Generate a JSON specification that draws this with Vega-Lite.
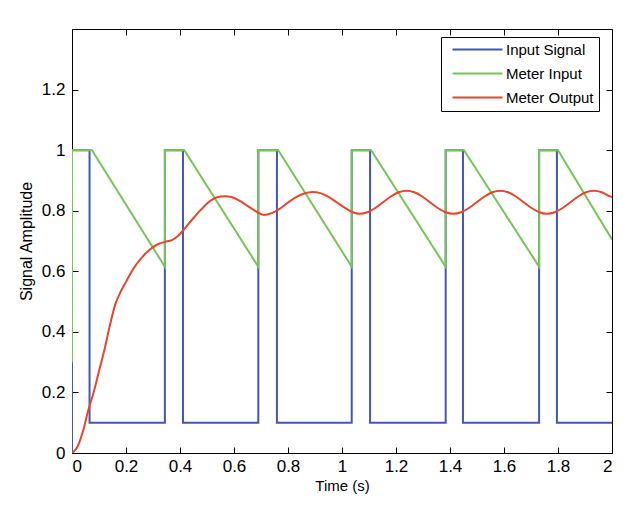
{
  "$schema": "https://vega.github.io/schema/vega-lite/v6.json",
  "width": 540,
  "height": 424,
  "autosize": "none",
  "padding": {"left": 72, "top": 29, "right": 11, "bottom": 52},
  "background": "white",
  "config": {
    "view": {"stroke": "black", "strokeWidth": 1},
    "font": "Liberation Sans",
    "axis": {
      "grid": false,
      "domainColor": "black",
      "tickColor": "black",
      "tickSize": -6,
      "labelColor": "black",
      "labelFont": "Liberation Sans",
      "labelFontSize": 17,
      "labelFontWeight": "normal",
      "titleFont": "Liberation Sans",
      "titleFontWeight": "normal",
      "titleColor": "black",
      "zindex": 1
    },
    "legend": {
      "symbolType": "M-0.2,0H9.8",
      "symbolSize": 100,
      "symbolStrokeWidth": 2,
      "labelFont": "Liberation Sans",
      "labelFontSize": 15,
      "labelColor": "black",
      "strokeColor": "black",
      "fillColor": "white",
      "padding": 5,
      "rowPadding": 8,
      "labelOffset": 45,
      "cornerRadius": 0
    }
  },
  "datasets": {
    "blue": [
      {"s": "Input Signal", "t": 0, "v": 0, "i": 0},
      {"s": "Input Signal", "t": 0, "v": 1, "i": 1},
      {"s": "Input Signal", "t": 0.065, "v": 1, "i": 2},
      {"s": "Input Signal", "t": 0.065, "v": 0.1, "i": 3},
      {"s": "Input Signal", "t": 0.344, "v": 0.1, "i": 4},
      {"s": "Input Signal", "t": 0.344, "v": 1, "i": 5},
      {"s": "Input Signal", "t": 0.411, "v": 1, "i": 6},
      {"s": "Input Signal", "t": 0.411, "v": 0.1, "i": 7},
      {"s": "Input Signal", "t": 0.69, "v": 0.1, "i": 8},
      {"s": "Input Signal", "t": 0.69, "v": 1, "i": 9},
      {"s": "Input Signal", "t": 0.759, "v": 1, "i": 10},
      {"s": "Input Signal", "t": 0.759, "v": 0.1, "i": 11},
      {"s": "Input Signal", "t": 1.036, "v": 0.1, "i": 12},
      {"s": "Input Signal", "t": 1.036, "v": 1, "i": 13},
      {"s": "Input Signal", "t": 1.104, "v": 1, "i": 14},
      {"s": "Input Signal", "t": 1.104, "v": 0.1, "i": 15},
      {"s": "Input Signal", "t": 1.384, "v": 0.1, "i": 16},
      {"s": "Input Signal", "t": 1.384, "v": 1, "i": 17},
      {"s": "Input Signal", "t": 1.448, "v": 1, "i": 18},
      {"s": "Input Signal", "t": 1.448, "v": 0.1, "i": 19},
      {"s": "Input Signal", "t": 1.73, "v": 0.1, "i": 20},
      {"s": "Input Signal", "t": 1.73, "v": 1, "i": 21},
      {"s": "Input Signal", "t": 1.796, "v": 1, "i": 22},
      {"s": "Input Signal", "t": 1.796, "v": 0.1, "i": 23},
      {"s": "Input Signal", "t": 2, "v": 0.1, "i": 24}
    ],
    "green": [
      {"s": "Meter Input", "t": 0, "v": 0.3, "i": 0},
      {"s": "Meter Input", "t": 0, "v": 1, "i": 1},
      {"s": "Meter Input", "t": 0.074, "v": 1, "i": 2},
      {"s": "Meter Input", "t": 0.344, "v": 0.615, "i": 3},
      {"s": "Meter Input", "t": 0.344, "v": 1, "i": 4},
      {"s": "Meter Input", "t": 0.416, "v": 1, "i": 5},
      {"s": "Meter Input", "t": 0.69, "v": 0.615, "i": 6},
      {"s": "Meter Input", "t": 0.69, "v": 1, "i": 7},
      {"s": "Meter Input", "t": 0.764, "v": 1, "i": 8},
      {"s": "Meter Input", "t": 1.036, "v": 0.615, "i": 9},
      {"s": "Meter Input", "t": 1.036, "v": 1, "i": 10},
      {"s": "Meter Input", "t": 1.108, "v": 1, "i": 11},
      {"s": "Meter Input", "t": 1.384, "v": 0.615, "i": 12},
      {"s": "Meter Input", "t": 1.384, "v": 1, "i": 13},
      {"s": "Meter Input", "t": 1.452, "v": 1, "i": 14},
      {"s": "Meter Input", "t": 1.73, "v": 0.615, "i": 15},
      {"s": "Meter Input", "t": 1.73, "v": 1, "i": 16},
      {"s": "Meter Input", "t": 1.8, "v": 1, "i": 17},
      {"s": "Meter Input", "t": 2, "v": 0.705, "i": 18}
    ],
    "red": [
      {"s": "Meter Output", "t": 0, "v": 0},
      {"s": "Meter Output", "t": 0.02, "v": 0.02},
      {"s": "Meter Output", "t": 0.04, "v": 0.07},
      {"s": "Meter Output", "t": 0.06, "v": 0.14},
      {"s": "Meter Output", "t": 0.08, "v": 0.2},
      {"s": "Meter Output", "t": 0.1, "v": 0.27},
      {"s": "Meter Output", "t": 0.12, "v": 0.34},
      {"s": "Meter Output", "t": 0.14, "v": 0.42},
      {"s": "Meter Output", "t": 0.16, "v": 0.49},
      {"s": "Meter Output", "t": 0.18, "v": 0.532},
      {"s": "Meter Output", "t": 0.2, "v": 0.565},
      {"s": "Meter Output", "t": 0.22, "v": 0.598},
      {"s": "Meter Output", "t": 0.24, "v": 0.625},
      {"s": "Meter Output", "t": 0.26, "v": 0.647},
      {"s": "Meter Output", "t": 0.28, "v": 0.665},
      {"s": "Meter Output", "t": 0.3, "v": 0.68},
      {"s": "Meter Output", "t": 0.32, "v": 0.69},
      {"s": "Meter Output", "t": 0.345, "v": 0.697},
      {"s": "Meter Output", "t": 0.37, "v": 0.703},
      {"s": "Meter Output", "t": 0.39, "v": 0.715},
      {"s": "Meter Output", "t": 0.41, "v": 0.733},
      {"s": "Meter Output", "t": 0.43, "v": 0.755},
      {"s": "Meter Output", "t": 0.45, "v": 0.776},
      {"s": "Meter Output", "t": 0.47, "v": 0.796},
      {"s": "Meter Output", "t": 0.49, "v": 0.815},
      {"s": "Meter Output", "t": 0.51, "v": 0.831},
      {"s": "Meter Output", "t": 0.53, "v": 0.842},
      {"s": "Meter Output", "t": 0.55, "v": 0.847},
      {"s": "Meter Output", "t": 0.57, "v": 0.848},
      {"s": "Meter Output", "t": 0.59, "v": 0.845},
      {"s": "Meter Output", "t": 0.62, "v": 0.833},
      {"s": "Meter Output", "t": 0.65, "v": 0.816},
      {"s": "Meter Output", "t": 0.68, "v": 0.799},
      {"s": "Meter Output", "t": 0.71, "v": 0.786},
      {"s": "Meter Output", "t": 0.74, "v": 0.792},
      {"s": "Meter Output", "t": 0.77, "v": 0.807},
      {"s": "Meter Output", "t": 0.8, "v": 0.827},
      {"s": "Meter Output", "t": 0.83, "v": 0.845},
      {"s": "Meter Output", "t": 0.86, "v": 0.857},
      {"s": "Meter Output", "t": 0.89, "v": 0.862},
      {"s": "Meter Output", "t": 0.92, "v": 0.858},
      {"s": "Meter Output", "t": 0.95, "v": 0.846},
      {"s": "Meter Output", "t": 0.98, "v": 0.828},
      {"s": "Meter Output", "t": 1.01, "v": 0.81},
      {"s": "Meter Output", "t": 1.04, "v": 0.795},
      {"s": "Meter Output", "t": 1.065, "v": 0.79},
      {"s": "Meter Output", "t": 1.094, "v": 0.795},
      {"s": "Meter Output", "t": 1.123, "v": 0.809},
      {"s": "Meter Output", "t": 1.152, "v": 0.828},
      {"s": "Meter Output", "t": 1.181, "v": 0.847},
      {"s": "Meter Output", "t": 1.21, "v": 0.861},
      {"s": "Meter Output", "t": 1.239, "v": 0.866},
      {"s": "Meter Output", "t": 1.268, "v": 0.861},
      {"s": "Meter Output", "t": 1.297, "v": 0.847},
      {"s": "Meter Output", "t": 1.326, "v": 0.828},
      {"s": "Meter Output", "t": 1.355, "v": 0.809},
      {"s": "Meter Output", "t": 1.384, "v": 0.795},
      {"s": "Meter Output", "t": 1.412, "v": 0.79},
      {"s": "Meter Output", "t": 1.441, "v": 0.795},
      {"s": "Meter Output", "t": 1.47, "v": 0.809},
      {"s": "Meter Output", "t": 1.499, "v": 0.828},
      {"s": "Meter Output", "t": 1.528, "v": 0.847},
      {"s": "Meter Output", "t": 1.557, "v": 0.861},
      {"s": "Meter Output", "t": 1.586, "v": 0.866},
      {"s": "Meter Output", "t": 1.615, "v": 0.861},
      {"s": "Meter Output", "t": 1.644, "v": 0.847},
      {"s": "Meter Output", "t": 1.673, "v": 0.828},
      {"s": "Meter Output", "t": 1.702, "v": 0.809},
      {"s": "Meter Output", "t": 1.731, "v": 0.795},
      {"s": "Meter Output", "t": 1.759, "v": 0.79},
      {"s": "Meter Output", "t": 1.788, "v": 0.795},
      {"s": "Meter Output", "t": 1.817, "v": 0.809},
      {"s": "Meter Output", "t": 1.846, "v": 0.828},
      {"s": "Meter Output", "t": 1.875, "v": 0.847},
      {"s": "Meter Output", "t": 1.904, "v": 0.861},
      {"s": "Meter Output", "t": 1.933, "v": 0.866},
      {"s": "Meter Output", "t": 1.962, "v": 0.861},
      {"s": "Meter Output", "t": 1.991, "v": 0.848},
      {"s": "Meter Output", "t": 2, "v": 0.845}
    ]
  },
  "layer": [
    {
      "data": {"name": "blue"},
      "mark": {"type": "line", "strokeWidth": 2, "clip": true},
      "encoding": {
        "x": {
          "field": "t", "type": "quantitative",
          "scale": {"domain": [0, 2], "nice": false, "zero": false},
          "axis": {"orient": "bottom", "values": [0, 0.2, 0.4, 0.6, 0.8, 1, 1.2, 1.4, 1.6, 1.8, 2], "format": "~g", "title": "Time (s)", "titleFontSize": 15, "labelPadding": 11, "titlePadding": 4, "domain": true}
        },
        "y": {
          "field": "v", "type": "quantitative",
          "scale": {"domain": [0, 1.4], "nice": false, "zero": false},
          "axis": {"orient": "left", "values": [0, 0.2, 0.4, 0.6, 0.8, 1, 1.2], "format": "~g", "title": "Signal Amplitude", "titleFontSize": 16, "labelPadding": 13, "titlePadding": 7, "domain": true}
        },
        "color": {
          "field": "s", "type": "nominal",
          "scale": {"domain": ["Input Signal", "Meter Input", "Meter Output"], "range": ["#4356b6", "#78c45c", "#e8452c"]},
          "legend": {"orient": "none", "legendX": 369, "legendY": 8, "title": null, "labelExpr": "datum.label + '   '"}
        },
        "order": {"field": "i", "type": "quantitative"}
      }
    },
    {
      "data": {"name": "green"},
      "mark": {"type": "line", "strokeWidth": 2, "clip": true},
      "encoding": {
        "x": {"field": "t", "type": "quantitative", "axis": null},
        "y": {"field": "v", "type": "quantitative", "axis": null},
        "color": {"field": "s", "type": "nominal"},
        "order": {"field": "i", "type": "quantitative"}
      }
    },
    {
      "data": {"name": "red"},
      "mark": {"type": "line", "strokeWidth": 2, "interpolate": "monotone", "clip": true},
      "encoding": {
        "x": {"field": "t", "type": "quantitative", "axis": null},
        "y": {"field": "v", "type": "quantitative", "axis": null},
        "color": {"field": "s", "type": "nominal"}
      }
    },
    {
      "data": {"name": "red"},
      "mark": {"type": "point", "opacity": 0},
      "encoding": {
        "x": {"field": "t", "type": "quantitative", "axis": {"orient": "top", "values": [0, 0.2, 0.4, 0.6, 0.8, 1, 1.2, 1.4, 1.6, 1.8, 2], "labels": false, "title": null, "domain": false}},
        "y": {"field": "v", "type": "quantitative", "axis": {"orient": "right", "values": [0, 0.2, 0.4, 0.6, 0.8, 1, 1.2], "labels": false, "title": null, "domain": false}}
      }
    }
  ]
}
